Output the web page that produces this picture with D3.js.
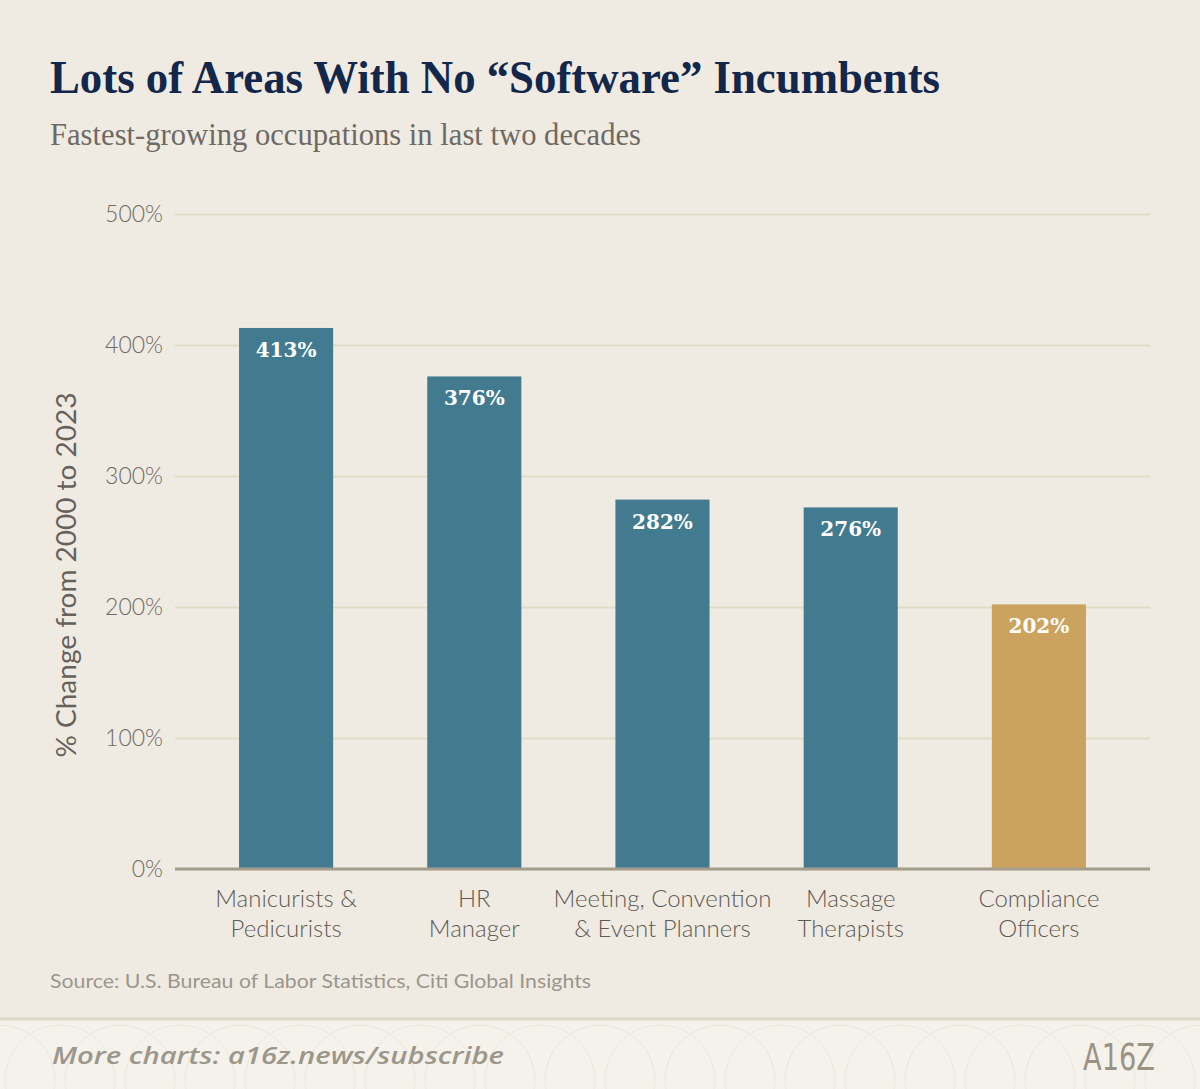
<!DOCTYPE html>
<html>
<head>
<meta charset="utf-8">
<script src="https://cdn.jsdelivr.net/npm/d3@7"></script>
<style>
  html, body { margin: 0; padding: 0; background: #efebe3; }
  svg { display: block; }
</style>
</head>
<body>
<div id="chart"></div>
<script>
'use strict';

// data
var categories = [
	['Manicurists &', 'Pedicurists'],
	['HR', 'Manager'],
	['Meeting, Convention', '& Event Planners'],
	['Massage', 'Therapists'],
	['Compliance', 'Officers']
];
var values = [413, 376, 282, 276, 202];
var highlight = [false, false, false, false, true];
var yTicks = [0, 100, 200, 300, 400, 500];

var W = 1200, H = 1089;
var plot = { left: 175, right: 1150, top: 214, bottom: 869 };

var svg = d3.select('#chart').append('svg')
	.attr('width', W)
	.attr('height', H);

svg.append('rect').attr('width', W).attr('height', H).attr('fill', '#efebe3');

// title + subtitle
svg.append('text')
	.attr('x', 50).attr('y', 93)
	.attr('font-family', '"Liberation Serif", serif')
	.attr('font-weight', 'bold')
	.attr('font-size', 46)
	.attr('fill', '#13274b')
	.attr('textLength', 890)
	.attr('lengthAdjust', 'spacingAndGlyphs')
	.text('Lots of Areas With No \u201cSoftware\u201d Incumbents');

svg.append('text')
	.attr('x', 50).attr('y', 145)
	.attr('font-family', '"Liberation Serif", serif')
	.attr('font-size', 31)
	.attr('fill', '#6e6962')
	.attr('textLength', 591)
	.attr('lengthAdjust', 'spacingAndGlyphs')
	.text('Fastest-growing occupations in last two decades');

// scales
var y = d3.scaleLinear().domain([0, 500]).range([plot.bottom, plot.top]);
var x = d3.scaleBand()
	.domain(d3.range(values.length))
	.range([192, 1133])
	.paddingInner(0.5)
	.paddingOuter(0.25);

// grid
var yAxis = d3.axisLeft(y)
	.tickValues(yTicks)
	.tickSize(-(plot.right - plot.left))
	.tickPadding(12)
	.tickFormat(function(d) { return d + '%'; });

var gy = svg.append('g')
	.attr('transform', 'translate(' + plot.left + ',0)')
	.call(yAxis);
gy.select('.domain').remove();
gy.selectAll('.tick line')
	.attr('stroke', '#e0dcc8')
	.attr('stroke-width', 2);
gy.selectAll('.tick text')
	.attr('font-family', 'Lato, "Open Sans", sans-serif')
	.attr('font-weight', 300)
	.attr('font-size', 23)
	.attr('fill', '#6f6a62');

// bars
svg.append('g').selectAll('rect')
	.data(values)
	.join('rect')
	.attr('x', function(d, i) { return x(i); })
	.attr('y', function(d) { return y(d); })
	.attr('width', x.bandwidth())
	.attr('height', function(d) { return y(0) - y(d); })
	.attr('fill', function(d, i) { return highlight[i] ? '#cba35e' : '#427a8f'; });

// value labels
svg.append('g').selectAll('text')
	.data(values)
	.join('text')
	.attr('x', function(d, i) { return x(i) + x.bandwidth() / 2; })
	.attr('y', function(d) { return y(d) + 29; })
	.attr('text-anchor', 'middle')
	.attr('font-family', '"DejaVu Serif", serif')
	.attr('font-weight', 'bold')
	.attr('font-size', 20)
	.attr('fill', '#ffffff')
	.text(function(d) { return d + '%'; });

// baseline
svg.append('line')
	.attr('x1', plot.left).attr('x2', plot.right)
	.attr('y1', y(0)).attr('y2', y(0))
	.attr('stroke', '#a59d8c')
	.attr('stroke-width', 3);

// category labels
var xl = svg.append('g').selectAll('text')
	.data(categories)
	.join('text')
	.attr('text-anchor', 'middle')
	.attr('font-family', 'Lato, "Open Sans", sans-serif')
	.attr('font-weight', 300)
	.attr('font-size', 24)
	.attr('fill', '#5f5a53');
xl.selectAll('tspan')
	.data(function(d, i) { return d.map(function(s) { return { s: s, i: i }; }); })
	.join('tspan')
	.attr('x', function(d) { return x(d.i) + x.bandwidth() / 2; })
	.attr('y', function(d, j) { return 907 + j * 30; })
	.text(function(d) { return d.s; });

// y axis title
svg.append('text')
	.attr('transform', 'translate(76,575) rotate(-90)')
	.attr('text-anchor', 'middle')
	.attr('font-family', 'Lato, "Open Sans", sans-serif')
	.attr('font-size', 26)
	.attr('fill', '#66615a')
	.attr('textLength', 365)
	.attr('lengthAdjust', 'spacingAndGlyphs')
	.text('% Change from 2000 to 2023');

// source
svg.append('text')
	.attr('x', 50).attr('y', 988)
	.attr('font-family', 'Lato, "Open Sans", sans-serif')
	.attr('font-size', 20)
	.attr('fill', '#9b968c')
	.attr('textLength', 541)
	.attr('lengthAdjust', 'spacingAndGlyphs')
	.text('Source: U.S. Bureau of Labor Statistics, Citi Global Insights');

// footer band
svg.append('rect')
	.attr('x', 0).attr('y', 1018)
	.attr('width', W).attr('height', H - 1018)
	.attr('fill', '#f5f2eb');
svg.append('line')
	.attr('x1', 0).attr('x2', W)
	.attr('y1', 1019).attr('y2', 1019)
	.attr('stroke', '#ddd7c6')
	.attr('stroke-width', 3);

// faint arcs pattern in the footer
var arcs = svg.append('g').attr('fill', 'none').attr('stroke', '#ebe7dc').attr('stroke-width', 1);
d3.range(0, W + 60, 60).forEach(function(cx) {
	arcs.append('circle').attr('cx', cx).attr('cy', 1080).attr('r', 55);
});

svg.append('text')
	.attr('x', 52).attr('y', 1064)
	.attr('font-family', '"Open Sans", sans-serif')
	.attr('font-style', 'italic')
	.attr('font-weight', 600)
	.attr('font-size', 24)
	.attr('fill', '#9c978b')
	.attr('textLength', 452)
	.attr('lengthAdjust', 'spacingAndGlyphs')
	.text('More charts: a16z.news/subscribe');

svg.append('text')
	.attr('x', 1155).attr('y', 1070)
	.attr('text-anchor', 'end')
	.attr('font-family', '"DejaVu Sans Condensed", sans-serif')
	.attr('font-size', 38)
	.attr('fill', '#9a9384')
	.attr('textLength', 72)
	.attr('lengthAdjust', 'spacingAndGlyphs')
	.text('A16Z');
</script>
</body>
</html>
